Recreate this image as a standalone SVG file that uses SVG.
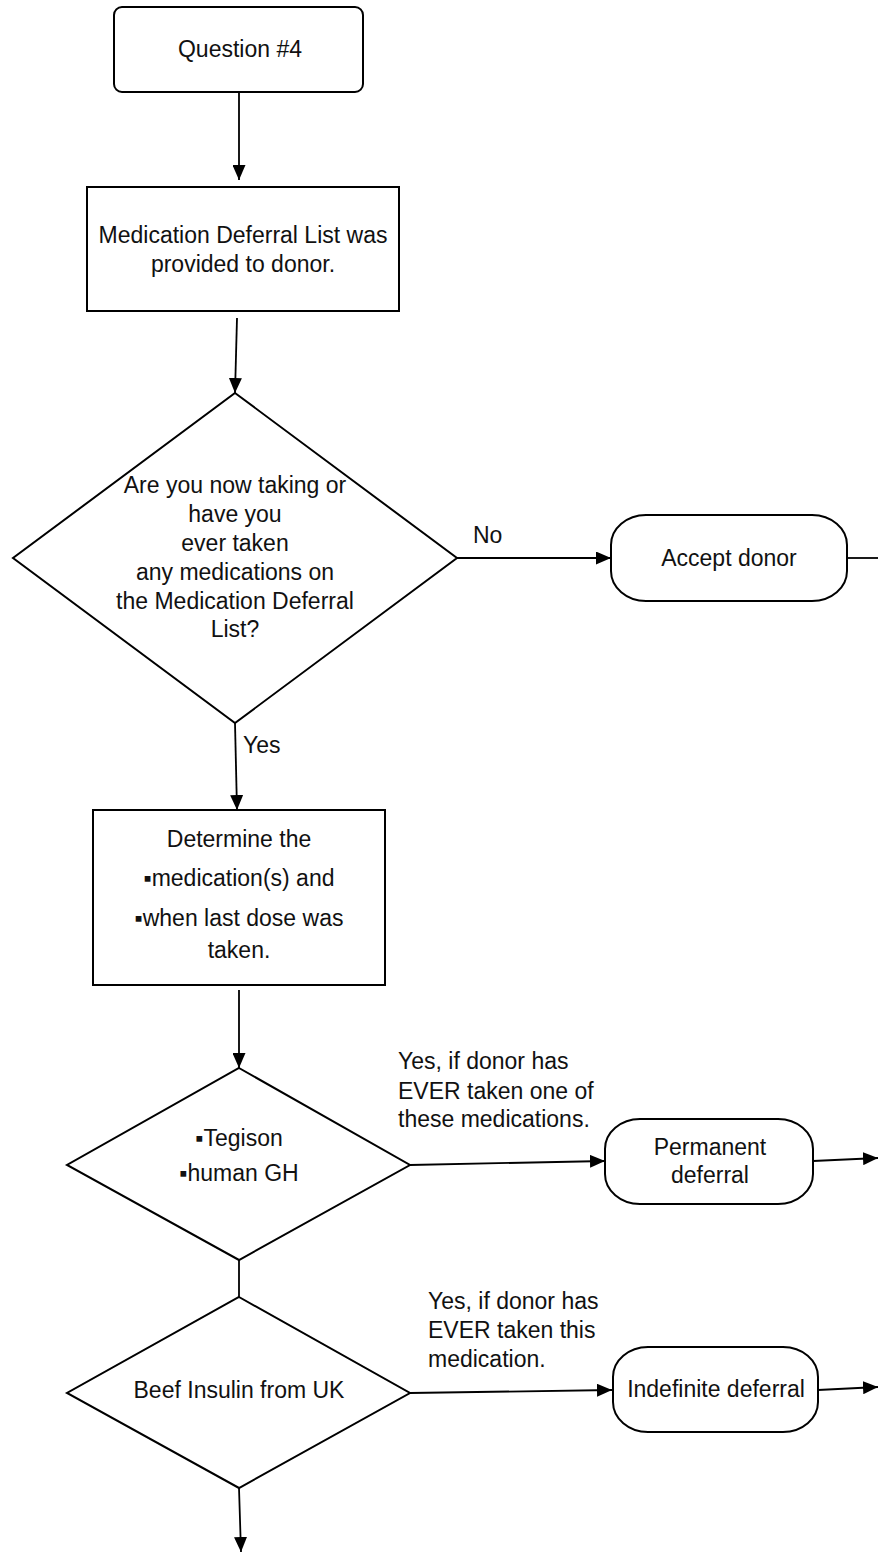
<svg xmlns="http://www.w3.org/2000/svg" width="878" height="1552" viewBox="0 0 878 1552">
<style>
.s{fill:#fff;stroke:#000;stroke-width:2}
.c{fill:none;stroke:#000;stroke-width:1.8}
text{font-family:"Liberation Sans",Arial,sans-serif;font-size:23px;fill:#111}
.m{text-anchor:middle}
</style>
<defs>
<marker id="ah" markerUnits="userSpaceOnUse" markerWidth="15" markerHeight="13" refX="15" refY="6.5" orient="auto">
<path d="M0,0 L15,6.5 L0,13 z" fill="#000"/>
</marker>
</defs>
<g id="connectors">
<line class="c" x1="239" y1="92" x2="239" y2="180" marker-end="url(#ah)"/>
<line class="c" x1="237" y1="318" x2="235" y2="393" marker-end="url(#ah)"/>
<line class="c" x1="457" y1="558" x2="611" y2="558" marker-end="url(#ah)"/>
<line class="c" x1="847" y1="558" x2="878" y2="558"/>
<line class="c" x1="235" y1="723" x2="237" y2="810" marker-end="url(#ah)"/>
<line class="c" x1="239" y1="990" x2="239" y2="1068" marker-end="url(#ah)"/>
<line class="c" x1="410" y1="1165" x2="605" y2="1161" marker-end="url(#ah)"/>
<line class="c" x1="813" y1="1161" x2="878" y2="1158" marker-end="url(#ah)"/>
<line class="c" x1="239" y1="1260" x2="239" y2="1297"/>
<line class="c" x1="410" y1="1393" x2="612" y2="1390" marker-end="url(#ah)"/>
<line class="c" x1="818" y1="1390" x2="878" y2="1387" marker-end="url(#ah)"/>
<line class="c" x1="239" y1="1488" x2="241" y2="1552" marker-end="url(#ah)"/>
<text x="473" y="543">No</text>
<text x="243" y="753">Yes</text>
<text x="398" y="1069">Yes, if donor has</text>
<text x="398" y="1099">EVER taken one of</text>
<text x="398" y="1127">these medications.</text>
<text x="428" y="1309">Yes, if donor has</text>
<text x="428" y="1338">EVER taken this</text>
<text x="428" y="1367">medication.</text>
</g>
<g id="q4">
<rect class="s" x="114" y="7" width="249" height="85" rx="8"/>
<text class="m" x="240" y="57">Question #4</text>
</g>
<g id="mdl">
<rect class="s" x="87" y="187" width="312" height="124"/>
<text class="m" x="243" y="243">Medication Deferral List was</text>
<text class="m" x="243" y="272">provided to donor.</text>
</g>
<g id="d1">
<polygon class="s" points="235,393 457,558 235,723 13,558"/>
<text class="m" x="235" y="493">Are you now taking or</text>
<text class="m" x="235" y="522">have you</text>
<text class="m" x="235" y="551">ever taken</text>
<text class="m" x="235" y="580">any medications on</text>
<text class="m" x="235" y="609">the Medication Deferral</text>
<text class="m" x="235" y="637">List?</text>
</g>
<g id="accept">
<rect class="s" x="611" y="515" width="236" height="86" rx="35" ry="30"/>
<text class="m" x="729" y="566">Accept donor</text>
</g>
<g id="determine">
<rect class="s" x="93" y="810" width="292" height="175"/>
<text class="m" x="239" y="847">Determine the</text>
<text class="m" x="239" y="886">▪medication(s) and</text>
<text class="m" x="239" y="926">▪when last dose was</text>
<text class="m" x="239" y="958">taken.</text>
</g>
<g id="d2">
<polygon class="s" points="239,1068 410,1165 239,1260 67,1165"/>
<text class="m" x="239" y="1146">▪Tegison</text>
<text class="m" x="239" y="1181">▪human GH</text>
</g>
<g id="perm">
<rect class="s" x="605" y="1119" width="208" height="85" rx="35" ry="30"/>
<text class="m" x="710" y="1155">Permanent</text>
<text class="m" x="710" y="1183">deferral</text>
</g>
<g id="d3">
<polygon class="s" points="239,1297 410,1393 239,1488 67,1393"/>
<text class="m" x="239" y="1398">Beef Insulin from UK</text>
</g>
<g id="indef">
<rect class="s" x="613" y="1347" width="205" height="85" rx="35" ry="30"/>
<text class="m" x="716" y="1397">Indefinite deferral</text>
</g>
</svg>
